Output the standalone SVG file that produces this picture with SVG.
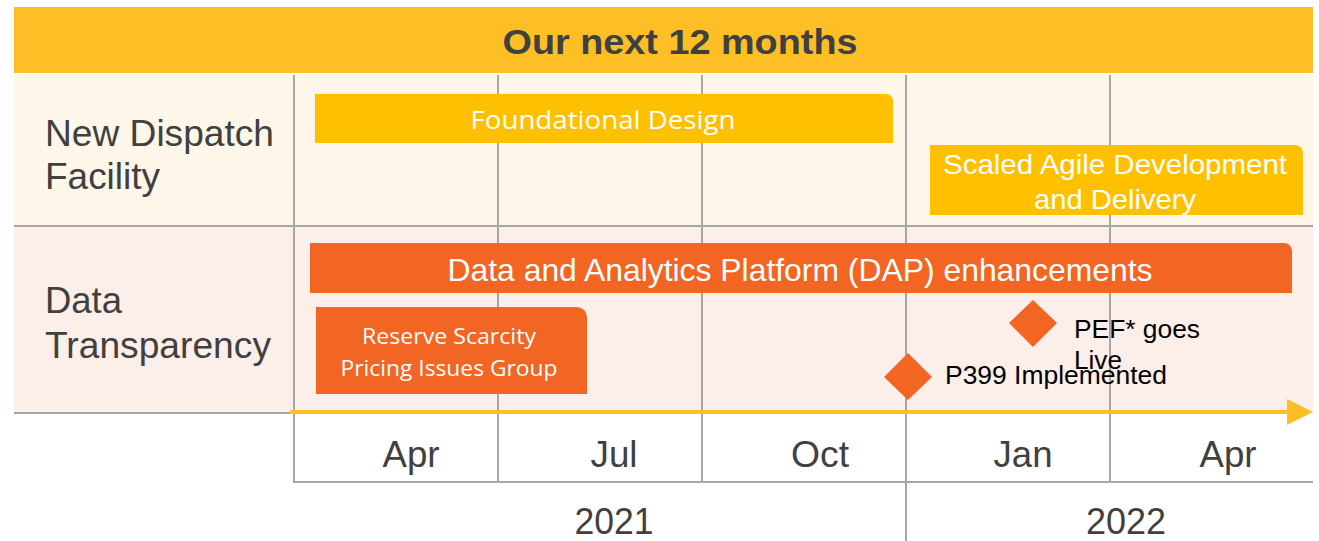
<svg xmlns="http://www.w3.org/2000/svg" width="1319" height="541" viewBox="0 0 1319 541">
<style>
.grid{stroke:#A6A6A6;stroke-width:2;fill:none}
.lab{font-family:"Liberation Sans",Arial,sans-serif;fill:#404040}
.wt{font-family:"Liberation Sans",Arial,sans-serif;fill:#FFFFFF}
.cal{font-family:"Open Sans","Noto Sans",sans-serif;fill:#FFFFFF}
.blk{font-family:"Liberation Sans",Arial,sans-serif;fill:#000000;font-size:26px}
.yel{fill:#FFC000}
.org{fill:#F26522}
</style>
<rect width="1319" height="541" fill="#FFFFFF"/>
<g id="header">
<rect x="14" y="7" width="1299" height="66" fill="#FDBE26"/>
<text x="680" y="54" text-anchor="middle" class="lab" font-size="35" font-weight="bold" textLength="355" lengthAdjust="spacingAndGlyphs">Our next 12 months</text>
</g>
<g id="rows">
<rect x="14" y="75" width="1299" height="151" fill="#FEF6E8"/>
<rect x="14" y="227" width="1299" height="186" fill="#FCEEE8"/>
<text x="45" y="146" class="lab" font-size="37" textLength="229" lengthAdjust="spacingAndGlyphs">New Dispatch</text>
<text x="45" y="189" class="lab" font-size="37" textLength="115" lengthAdjust="spacingAndGlyphs">Facility</text>
<text x="45" y="313" class="lab" font-size="37" textLength="77" lengthAdjust="spacingAndGlyphs">Data</text>
<text x="45" y="358" class="lab" font-size="37" textLength="226" lengthAdjust="spacingAndGlyphs">Transparency</text>
</g>
<g id="grid">
<line class="grid" x1="14" y1="226" x2="1313" y2="226"/>
<line class="grid" x1="14" y1="413" x2="292" y2="413"/>
<line class="grid" x1="294" y1="75" x2="294" y2="482"/>
<line class="grid" x1="498" y1="75" x2="498" y2="482"/>
<line class="grid" x1="702" y1="75" x2="702" y2="482"/>
<line class="grid" x1="906" y1="75" x2="906" y2="541"/>
<line class="grid" x1="1110" y1="75" x2="1110" y2="482"/>
<line class="grid" x1="293" y1="482" x2="1313" y2="482"/>
</g>
<g id="foundational">
<path class="yel" d="M315,94 H885 Q893,94 893,102 V143 H315 Z"/>
<text x="603" y="129" text-anchor="middle" class="cal" font-size="25" textLength="265" lengthAdjust="spacingAndGlyphs">Foundational Design</text>
</g>
<g id="scaled-agile">
<path class="yel" d="M930,145 H1294 Q1303,145 1303,154 V215 H930 Z"/>
<text x="1115" y="174" text-anchor="middle" class="wt" font-size="28" textLength="344" lengthAdjust="spacingAndGlyphs">Scaled Agile Development</text>
<text x="1115" y="209" text-anchor="middle" class="wt" font-size="28" textLength="162" lengthAdjust="spacingAndGlyphs">and Delivery</text>
</g>
<g id="dap">
<path class="org" d="M310,243 H1283 Q1292,243 1292,252 V293 H310 Z"/>
<text x="800" y="281" text-anchor="middle" class="wt" font-size="32" textLength="705" lengthAdjust="spacingAndGlyphs">Data and Analytics Platform (DAP) enhancements</text>
</g>
<g id="reserve-scarcity">
<path class="org" d="M316,307 H575 Q587,307 587,319 V394 H316 Z"/>
<text x="449" y="344" text-anchor="middle" class="cal" font-size="21" textLength="174" lengthAdjust="spacingAndGlyphs">Reserve Scarcity</text>
<text x="449" y="376" text-anchor="middle" class="cal" font-size="21" textLength="217" lengthAdjust="spacingAndGlyphs">Pricing Issues Group</text>
</g>
<g id="connectors">
<line x1="290" y1="412" x2="1300" y2="412" stroke="#FDBE26" stroke-width="4"/>
<path d="M1287,399 L1313,412 L1287,425 Z" fill="#FDBE26"/>
</g>
<g id="p399">
<path class="org" d="M908,353 L932,377 L908,400 L884,377 Z"/>
<text x="945" y="384" class="blk" textLength="222" lengthAdjust="spacingAndGlyphs">P399 Implemented</text>
</g>
<g id="pef">
<path class="org" d="M1033,300 L1057,323 L1033,347 L1009,323 Z"/>
<text x="1074" y="338" class="blk" textLength="126" lengthAdjust="spacingAndGlyphs">PEF* goes</text>
<text x="1074" y="369" class="blk" textLength="48" lengthAdjust="spacingAndGlyphs">Live</text>
</g>
<g id="axis">
<text x="411" y="467" text-anchor="middle" class="lab" font-size="36" textLength="57" lengthAdjust="spacingAndGlyphs">Apr</text>
<text x="614" y="467" text-anchor="middle" class="lab" font-size="36" textLength="47" lengthAdjust="spacingAndGlyphs">Jul</text>
<text x="820" y="467" text-anchor="middle" class="lab" font-size="36" textLength="58" lengthAdjust="spacingAndGlyphs">Oct</text>
<text x="1023" y="467" text-anchor="middle" class="lab" font-size="36" textLength="59" lengthAdjust="spacingAndGlyphs">Jan</text>
<text x="1228" y="467" text-anchor="middle" class="lab" font-size="36" textLength="57" lengthAdjust="spacingAndGlyphs">Apr</text>
<text x="614" y="534" text-anchor="middle" class="lab" font-size="36" textLength="79" lengthAdjust="spacingAndGlyphs">2021</text>
<text x="1126" y="534" text-anchor="middle" class="lab" font-size="36" textLength="80" lengthAdjust="spacingAndGlyphs">2022</text>
</g>
</svg>
